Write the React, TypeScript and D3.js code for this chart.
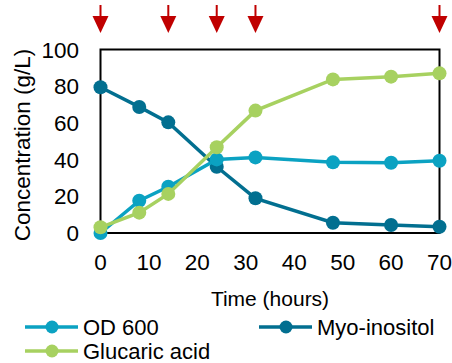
import { useEffect, useRef } from 'react';
import * as d3 from 'd3';

const hours = [0, 8, 14, 24, 32, 48, 60, 70];
const od600 = [0, 17.6, 25.2, 40.1, 41.2, 38.5, 38.3, 39.4];
const myoInositol = [79.4, 68.7, 60.3, 36.1, 18.9, 5.6, 4.4, 3.4];
const glucaricAcid = [3.1, 11.1, 21.3, 46.7, 66.7, 83.7, 85.2, 87.0];
const feedTimes = [0, 14, 24, 32, 70];
const xTicks = [0, 10, 20, 30, 40, 50, 60, 70];
const yTicks = [0, 20, 40, 60, 80, 100];

const series = [
  { name: 'Myo-inositol', values: myoInositol, color: '#026f90' },
  { name: 'OD 600', values: od600, color: '#0ba2c2' },
  { name: 'Glucaric acid', values: glucaricAcid, color: '#a7d160' },
];

const App = () => {
  const svgRef = useRef<SVGSVGElement>(null);

  useEffect(() => {
    const svg = d3.select(svgRef.current);
    svg.selectAll('*').remove();
    const font = 'Liberation Sans, Arial, sans-serif';

    const x = d3.scaleLinear().domain([0, 70]).range([100.5, 439.5]);
    const y = d3.scaleLinear().domain([0, 100]).range([233, 49.5]);

    // frame
    svg.append('rect')
      .attr('x', x(0)).attr('y', y(100))
      .attr('width', x(70) - x(0)).attr('height', y(0) - y(100))
      .attr('fill', 'none').attr('stroke', '#000').attr('stroke-width', 2);

    svg.append('g').selectAll('text').data(yTicks).enter().append('text')
      .attr('x', 79).attr('y', (d) => y(d))
      .attr('dy', '0.36em').attr('text-anchor', 'end')
      .attr('font-family', font).attr('font-size', 22.5)
      .text((d) => d);

    svg.append('g').selectAll('text').data(xTicks).enter().append('text')
      .attr('x', (d) => x(d)).attr('y', 262)
      .attr('dy', '0.36em').attr('text-anchor', 'middle')
      .attr('font-family', font).attr('font-size', 22.5)
      .text((d) => d);

    svg.append('text')
      .attr('x', 270).attr('y', 298).attr('dy', '0.36em')
      .attr('text-anchor', 'middle').attr('font-family', font).attr('font-size', 21)
      .text('Time (hours)');

    svg.append('text')
      .attr('transform', `translate(22,${145}) rotate(-90)`)
      .attr('dy', '0.36em').attr('text-anchor', 'middle')
      .attr('font-family', font).attr('font-size', 22.5)
      .text('Concentration (g/L)');

    const line = d3.line<number>()
      .x((_, i) => x(hours[i]))
      .y((d) => y(d));

    series.forEach((s) => {
      const g = svg.append('g');
      g.append('path').datum(s.values)
        .attr('d', line).attr('fill', 'none')
        .attr('stroke', s.color).attr('stroke-width', 3.5);
      g.selectAll('circle').data(s.values).enter().append('circle')
        .attr('cx', (_, i) => x(hours[i])).attr('cy', (d) => y(d))
        .attr('r', 7).attr('fill', s.color);
    });

    // feeding arrows
    const arrows = svg.append('g').attr('fill', '#c00000').attr('stroke', '#c00000');
    feedTimes.forEach((t) => {
      const cx = x(t);
      arrows.append('line')
        .attr('x1', cx).attr('x2', cx).attr('y1', 5).attr('y2', 20)
        .attr('stroke-width', 2);
      arrows.append('path')
        .attr('d', `M${cx - 8},16 L${cx + 8},16 L${cx},33 Z`)
        .attr('stroke', 'none');
    });

    // legend
    const legendItems = [
      { s: series[1], lx: 25, ly: 327 },
      { s: series[0], lx: 259, ly: 327 },
      { s: series[2], lx: 25, ly: 351 },
    ];
    legendItems.forEach(({ s, lx, ly }) => {
      const g = svg.append('g');
      g.append('line')
        .attr('x1', lx).attr('x2', lx + 53).attr('y1', ly).attr('y2', ly)
        .attr('stroke', s.color).attr('stroke-width', 3.5);
      g.append('circle').attr('cx', lx + 27).attr('cy', ly).attr('r', 6.5).attr('fill', s.color);
      g.append('text')
        .attr('x', lx + 58).attr('y', ly).attr('dy', '0.36em')
        .attr('font-family', font).attr('font-size', 22)
        .text(s.name);
    });
  }, []);

  return (
    <svg
      ref={svgRef}
      width={452}
      height={363}
      style={{ position: 'absolute', left: 0, top: 0, background: '#fff' }}
    />
  );
};

export default App;
